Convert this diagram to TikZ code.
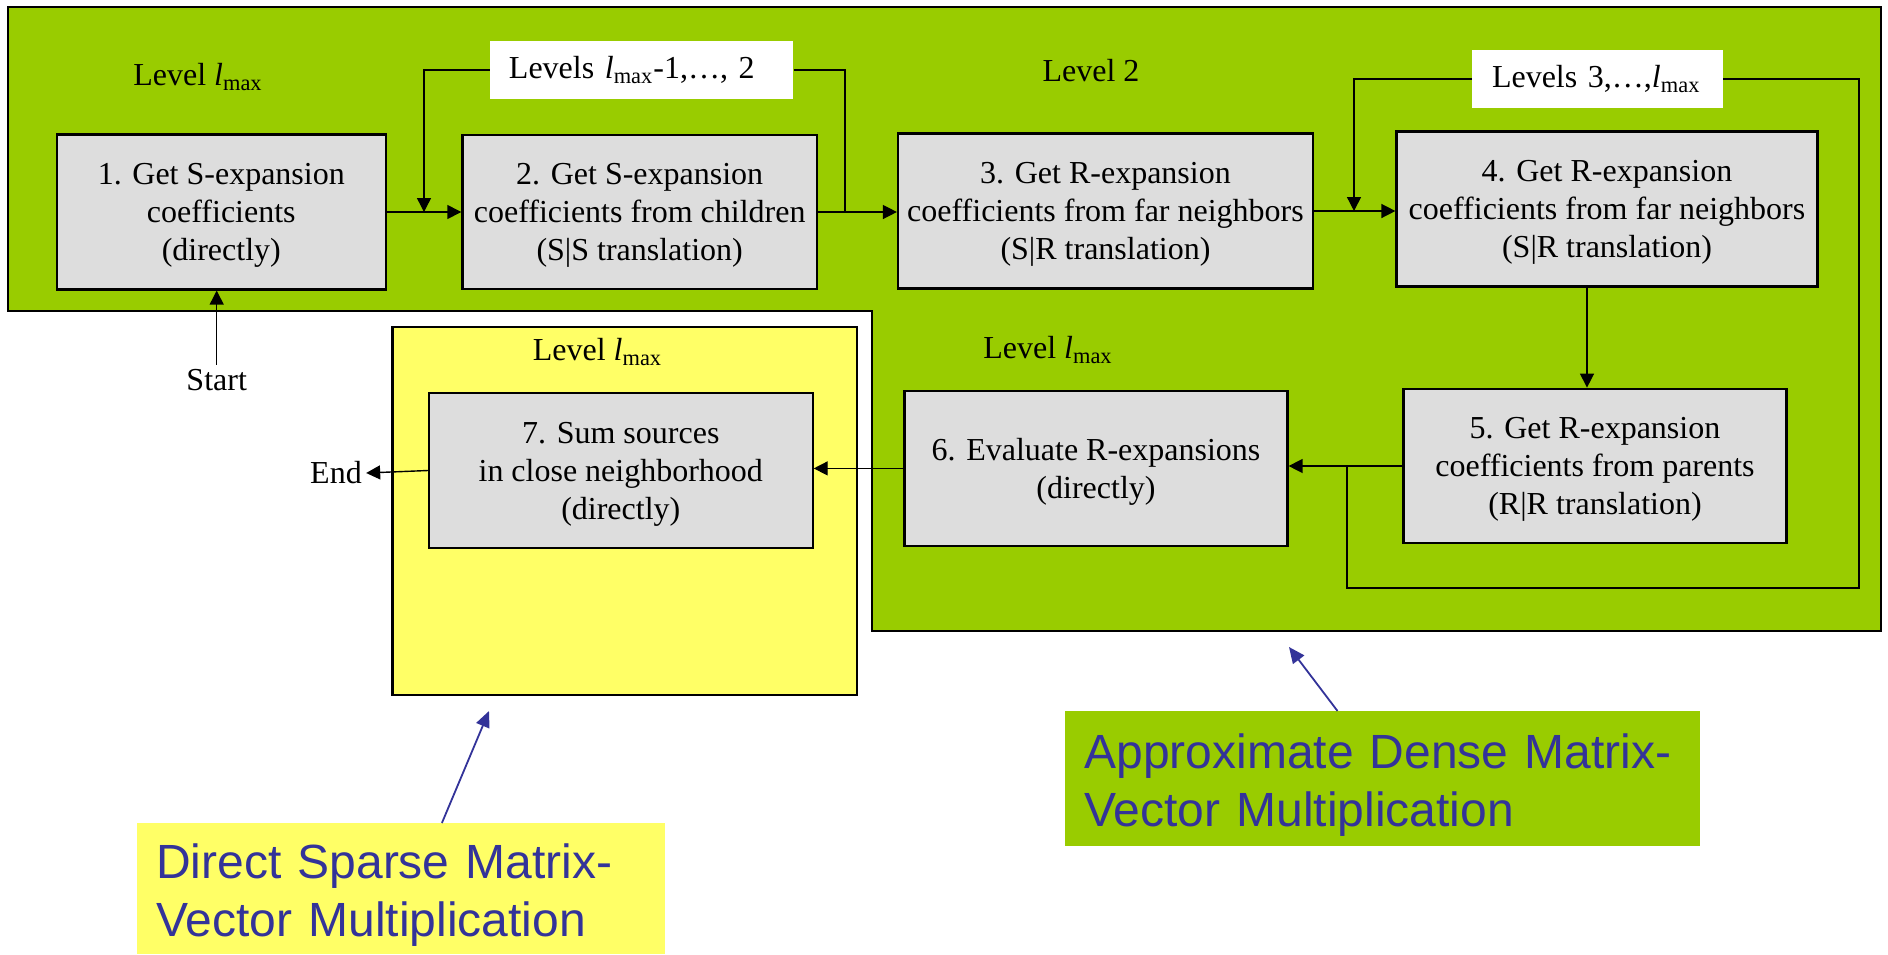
\documentclass[tikz,border=0pt]{standalone}
\usepackage{fontspec}
\setmainfont{Liberation Serif}
\newfontfamily\arialfont{Liberation Sans}
\usepackage{xcolor}
\usepackage{tikz}
\usetikzlibrary{arrows.meta,positioning}
\definecolor{fgreen}{HTML}{99CC00}
\definecolor{fyellow}{HTML}{FFFF66}
\definecolor{fgray}{HTML}{DDDDDD}
\definecolor{fblue}{HTML}{333399}
\newcommand{\lmax}{\textit{l}\textsubscript{max}}

\begin{document}
\begin{tikzpicture}[x=0.5pt,y=-0.5pt,
    stage/.style={draw,fill=fgray,line width=1.1pt,align=center,inner sep=0pt,
      text depth=0pt,font=\fontsize{16}{19}\selectfont},
    lvl/.style={font=\fontsize{16}{19}\selectfont,inner sep=2pt},
    lvbox/.style={fill=white,align=left,inner ysep=0pt,minimum height=28.85pt,
      font=\fontsize{16}{19}\selectfont},
    flow/.style={line width=0.7pt,-{Triangle[length=7pt,width=7pt]}},
    note/.style={anchor=north west,align=left,inner xsep=9.5pt,text depth=28pt,
      text=fblue,font=\arialfont\fontsize{24}{29}\selectfont},
    pointer/.style={draw=fblue,line width=0.9pt,-{Triangle[length=8pt,width=7pt]}}]
  \useasboundingbox (0,0) rectangle (1888,954);
  % regions
  \draw[fill=fgreen,line width=1.2pt] (8,7) -- (1881,7) -- (1881,631) -- (872,631)
    -- (872,311) -- (8,311) -- cycle;
  \draw[fill=fyellow,line width=1.2pt] (392.5,326.7) rectangle (856.7,695);

  % stages
  \node[stage,minimum width=164.6pt,minimum height=77.5pt] (b1) at (221.3,212)
    {1. Get S-expansion\\coefficients\\(directly)};
  \node[stage,minimum width=177.3pt,minimum height=77pt] (b2) at (639.7,212)
    {2. Get S-expansion\\coefficients from children\\(S|S translation)};
  \node[stage,minimum width=207.5pt,minimum height=77.5pt] (b3) at (1105.5,211)
    {3. Get R-expansion\\coefficients from far neighbors\\(S|R translation)};
  \node[stage,minimum width=210.5pt,minimum height=77.5pt] (b4) at (1607,209)
    {4. Get R-expansion\\coefficients from far neighbors\\(S|R translation)};
  \node[stage,minimum width=191.5pt,minimum height=77.3pt] (b5) at (1595,466)
    {5. Get R-expansion\\coefficients from parents\\(R|R translation)};
  \node[stage,minimum width=191.5pt,minimum height=77.7pt] (b6) at (1096,468.4)
    {6. Evaluate R-expansions\\(directly)};
  \node[stage,minimum width=191.8pt,minimum height=77.8pt] (b7) at (620.8,470.5)
    {7. Sum sources\\in close neighborhood\\(directly)};

  % level labels
  \node[lvl] (l1) at (198,77) {Level \lmax};
  \node[lvl] (l2) at (1091,71) {Level 2};
  \node[lvl] (l3) at (1048,350) {Level \lmax};
  \node[lvl] (l4) at (597.5,352) {Level \lmax};
  \node[lvbox,text width=132.75pt,inner xsep=9.5pt] (lv1) at (641.7,70)
    {Levels \lmax-1,…, 2};
  \node[lvbox,text width=105.5pt,inner xsep=10pt] (lv2) at (1597.5,79)
    {Levels 3,…,\lmax};

  \node[lvl] (start) at (216.7,380) {Start};
  \node[lvl] (endn) at (336,473) {End};

  % connectors
  \coordinate (j12) at (424,0);
  \coordinate (j23) at (845,0);
  \coordinate (j34) at (1354,0);
  \coordinate (d45) at (1587,0);
  \coordinate (loopR) at (1859,588);
  \coordinate (loopL) at (1347,588);
  \draw[flow] (start.north) -- (start.north |- b1.south);
  \draw[flow] (b1.east) -- (b2.west);
  \draw[flow] (b2.east) -- (b2.east -| b3.west);
  \draw[flow] (b3.east) -- (b3.east -| b4.west);
  \draw[flow] (b4.south -| d45) -- (b5.north -| d45);
  \draw[flow] (b5.west) -- (b5.west -| b6.east);
  \draw[flow] (b6.west) -- (b6.west -| b7.east);
  \draw[flow] (b7.west) -- (endn.east);
  \draw[flow] (lv1.west) -| (j12 |- b1.east);
  \draw[line width=0.7pt] (lv1.east) -| (j23 |- b2.east);
  \draw[flow] (lv2.west) -| (j34 |- b3.east);
  \draw[line width=0.7pt] (lv2.east) -| (loopR) -- (loopL) -- (loopL |- b5.west);

  % notes
  \node[note,fill=fyellow,text width=245pt,minimum height=65.5pt] (ny) at (136.9,823)
    {Direct Sparse Matrix-\\Vector Multiplication};
  \node[note,fill=fgreen,text width=298.3pt,minimum height=67.3pt] (ng) at (1065,711)
    {Approximate Dense Matrix-\\Vector Multiplication};
  \coordinate (ty) at (489,711);
  \coordinate (tg) at (1289,647);
  \draw[pointer] ([xshift=20.3pt]ny.north) -- (ty);
  \draw[pointer] ([xshift=-22.6pt]ng.north) -- (tg);
\end{tikzpicture}
\end{document}
